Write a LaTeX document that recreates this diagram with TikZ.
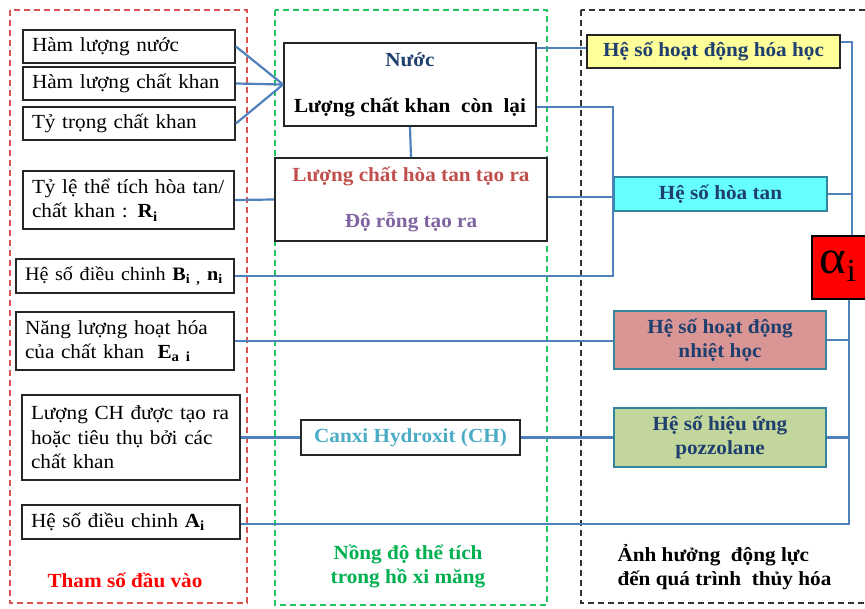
\documentclass[tikz,border=0pt]{standalone}
\usepackage{fontspec}
\setmainfont{Liberation Serif}[FakeStretch=1.06]
\usetikzlibrary{calc}
\definecolor{cblue}{HTML}{4F81BD}
\definecolor{navy}{HTML}{1F3F6F}
\definecolor{dashred}{HTML}{D9534F}
\definecolor{dashgreen}{HTML}{22C55E}
\definecolor{lblgreen}{HTML}{00B050}
\definecolor{txtred}{HTML}{C0504D}
\definecolor{txtpurple}{HTML}{8064A2}
\definecolor{txtcyan}{HTML}{4BACC6}
\definecolor{fyellow}{HTML}{FFFF99}
\definecolor{fcyan}{HTML}{66FFFF}
\definecolor{fpink}{HTML}{D99694}
\definecolor{fgreen}{HTML}{C3D69B}
\definecolor{teal}{HTML}{31859C}
\begin{document}
\begin{tikzpicture}[x=1pt,y=-1pt,
  frame/.style={line width=1.6pt, dash pattern=on 6pt off 4pt},
  inbox/.style={draw=black!85, line width=1.8pt, inner ysep=0pt, inner xsep=9pt, align=left,
     font=\fontsize{20}{24.5}\selectfont},
  midbox/.style={draw=black!85, line width=1.8pt, inner sep=0pt, align=center,
     font=\bfseries\fontsize{20}{24}\selectfont},
  outbox/.style={draw=teal, line width=1.4pt, inner sep=0pt, align=center, text=navy,
     font=\bfseries\fontsize{20}{24}\selectfont},
  conn/.style={draw=cblue, line width=2.2pt},
  lbl/.style={font=\bfseries\fontsize{20}{24}\selectfont, align=center}
]
\useasboundingbox (0,0) rectangle (865,608);

% dashed frames
\draw[frame, draw=dashred] (10,10) rectangle (247,603);
\draw[frame, draw=dashgreen] (275,10) rectangle (547,605);
\draw[frame, draw=black!80] (581,10) rectangle (880,603);

% input boxes
\node[inbox, text width=194pt, minimum height=33pt] (hlnuoc) at (129,46.5) {Hàm lượng nước};
\node[inbox, text width=194pt, minimum height=33pt] (hlkhan) at (129,83.5) {Hàm lượng chất khan};
\node[inbox, text width=194pt, minimum height=33pt] (tytrong) at (129,123.5) {Tỷ trọng chất khan};
\node[inbox, text width=193pt, minimum height=58pt] (tyle) at (128.5,200) {Tỷ lệ thể tích hòa tan/\\chất khan : \textbf{R\textsubscript{i}}};
\node[inbox, text width=200pt, minimum height=34pt] (bini) at (125,276) {\mbox{\fontsize{19}{23}\selectfont Hệ số điều chinh \textbf{B\textsubscript{i ,} n\textsubscript{i}}}};
\node[inbox, text width=200pt, minimum height=58pt] (nangluong) at (125,341) {Năng lượng hoạt hóa\\của chất khan \ \textbf{E\textsubscript{a i}}};
\node[inbox, text width=200pt, minimum height=85pt] (luongch) at (131,437.5) {Lượng CH được tạo ra\\hoặc tiêu thụ bởi các\\chất khan};
\node[inbox, text width=200pt, minimum height=34pt] (ai) at (131,522) {Hệ số điều chinh \textbf{A\textsubscript{i}}};

% middle boxes
\node[midbox, minimum width=252pt, minimum height=83pt] (nuoc) at (410,84.5) {\textcolor{navy}{Nước}\\[22pt]Lượng chất khan \ còn \ lại};
\node[midbox, minimum width=272pt, minimum height=83pt] (hoatan) at (411,199.5) {\textcolor{txtred}{Lượng chất hòa tan tạo ra}\\[22pt]\textcolor{txtpurple}{Độ rỗng tạo ra}};
\node[midbox, minimum width=219pt, minimum height=35pt, text=txtcyan] (ch) at (410.5,437.5) {Canxi Hydroxit (CH)};

% output boxes
\node[outbox, draw=black!85, fill=fyellow, minimum width=253pt, minimum height=33pt] (hhoc) at (713.5,51.5) {Hệ số hoạt động hóa học};
\node[outbox, fill=fcyan, minimum width=213pt, minimum height=34pt] (htan) at (720.5,194) {Hệ số hòa tan};
\node[outbox, fill=fpink, minimum width=212pt, minimum height=58pt] (nhiet) at (720,340) {Hệ số hoạt động\\nhiệt học};
\node[outbox, fill=fgreen, minimum width=212pt, minimum height=59pt] (pozz) at (720,437.5) {Hệ số hiệu ứng\\pozzolane};
\node[draw=black, line width=1.6pt, fill=red, minimum width=56pt, minimum height=63pt, inner sep=0pt] (alpha) at (840,267.5) {};
\node[inner sep=0pt] (alphatxt) at (838,266) {{\fontsize{48}{48}\selectfont α}\raisebox{-8pt}{\fontsize{32}{32}\selectfont i}};

% labels
\node[lbl, text=red] (l1) at (125,580) {Tham số đầu vào};
\node[lbl, text=lblgreen] (l2) at (408,566) {Nồng độ thể tích\\trong hồ xi măng};
\node[lbl, align=left, anchor=west] (l3) at (614,567) {Ảnh hưởng \ động lực\\đến quá trình \ thủy hóa};

% bus coordinates
\coordinate (bust) at (852,0);
\coordinate (busb) at (849,0);

% connectors
\draw[conn] (hlnuoc.east) -- (nuoc.west);
\draw[conn] (hlkhan.east) -- (nuoc.west);
\draw[conn] (tytrong.east) -- (nuoc.west);
\draw[conn] (tyle.east) -- (hoatan.west);
\draw[conn] (nuoc.south) -- (hoatan.north);
\draw[conn] (nuoc.east |- 0,48) -- (hhoc.west |- 0,48);
\draw[conn] (nuoc.east |- 0,107) -| (htan.west |- bini.east) -- (bini.east);
\draw[conn] (hoatan.east |- 0,197) -- (htan.west |- 0,197);
\draw[conn] (nangluong.east) -- (nangluong.east -| nhiet.west);
\draw[conn] (luongch.east) -- (ch.west);
\draw[conn] (ch.east) -- (ch.east -| pozz.west);
\draw[conn] (hhoc.east |- 0,42) -| (alpha.north -| bust);
\draw[conn] (htan.east) -- (htan.east -| bust);
\draw[conn] (ai.east |- 0,524) -| (alpha.south -| busb);
\draw[conn] (nhiet.east) -- (nhiet.east -| busb);
\draw[conn] (pozz.east) -- (pozz.east -| busb);
\end{tikzpicture}
\end{document}
